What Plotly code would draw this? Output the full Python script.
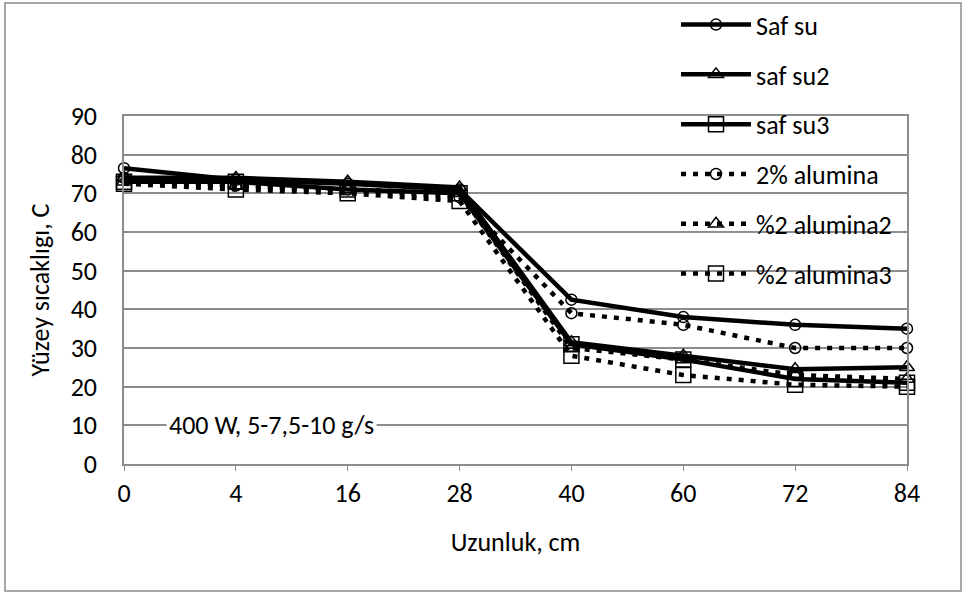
import plotly.graph_objects as go

categories = ["0", "4", "16", "28", "40", "60", "72", "84"]

saf_su = [76.5, 73.5, 72.5, 71.0, 42.5, 38.0, 36.0, 35.0]
saf_su2 = [74.0, 74.0, 73.0, 71.5, 31.5, 28.0, 24.5, 25.0]
saf_su3 = [73.0, 73.0, 71.0, 70.0, 31.0, 27.0, 22.0, 21.0]
alumina = [74.0, 72.0, 71.0, 69.0, 39.0, 36.0, 30.0, 30.0]
alumina2 = [73.0, 72.0, 71.0, 70.0, 30.0, 27.0, 23.0, 22.0]
alumina3 = [72.5, 71.0, 70.0, 68.0, 28.0, 23.0, 20.5, 20.0]

series_names = ["Saf su", "saf su2", "saf su3", "2% alumina", "%2 alumina2", "%2 alumina3"]
series_values = [saf_su, saf_su2, saf_su3, alumina, alumina2, alumina3]
symbols = ["circle-open", "triangle-up-open", "square-open"] * 2
dashes = ["solid"] * 3 + ["5px,7px"] * 3
msize = [11, 13, 15] * 2

FONT = "Carlito, Calibri, Lato, 'Open Sans', sans-serif"
GRID = "#8c8c8c"
FS = 26

fig = go.Figure()
xi = list(range(len(categories)))
for i, (name, vals) in enumerate(zip(series_names, series_values)):
    fig.add_trace(go.Scatter(
        x=xi, y=vals, name=name, mode="lines+markers",
        line=dict(color="black", width=4.5, dash=dashes[i]),
        marker=dict(symbol=symbols[i], size=msize[i], color="black",
                    line=dict(color="black", width=1.5)),
        cliponaxis=False, legendgroup=str(i),
    ))

fig.update_layout(
    width=966, height=594,
    margin=dict(l=124, r=59, t=116, b=130, autoexpand=False),
    paper_bgcolor="white", plot_bgcolor="white",
    font=dict(family=FONT, color="black", size=FS),
    showlegend=True,
    legend=dict(x=0.705, y=1.33, xanchor="left", yanchor="top",
                bgcolor="rgba(0,0,0,0)", font=dict(size=FS),
                tracegroupgap=13, itemwidth=70),
    xaxis=dict(range=[0, 7], tickvals=xi, ticktext=categories, automargin=False,
               showgrid=False, zeroline=False, showline=True, linecolor=GRID,
               linewidth=1.5, mirror=True, ticks="outside", ticklen=5,
               tickcolor=GRID, tickfont=dict(size=FS),
               title=dict(text="Uzunluk, cm", font=dict(size=FS), standoff=25)),
    yaxis=dict(range=[0, 90], dtick=10, showgrid=True, gridcolor=GRID, automargin=False,
               gridwidth=1.5, zeroline=False, showline=True, linecolor=GRID,
               linewidth=1.5, mirror=True, ticks="", tickfont=dict(size=FS),
               ticklabelstandoff=20,
               title=dict(text="Yüzey sıcaklıgı, C", font=dict(size=FS), standoff=14)),
    shapes=[dict(type="rect", xref="paper", yref="paper",
                 x0=-0.152, x1=1.069, y0=-0.365, y1=1.325,
                 line=dict(color=GRID, width=1.5), layer="below")],
    annotations=[dict(text="400 W, 5-7,5-10 g/s", xref="x", yref="y",
                      x=1.32, y=10, showarrow=False, bgcolor="white",
                      font=dict(size=FS), borderpad=2)],
)

fig.write_html("out.html", config={"displayModeBar": False},
               post_script="document.body.style.margin='0';")
